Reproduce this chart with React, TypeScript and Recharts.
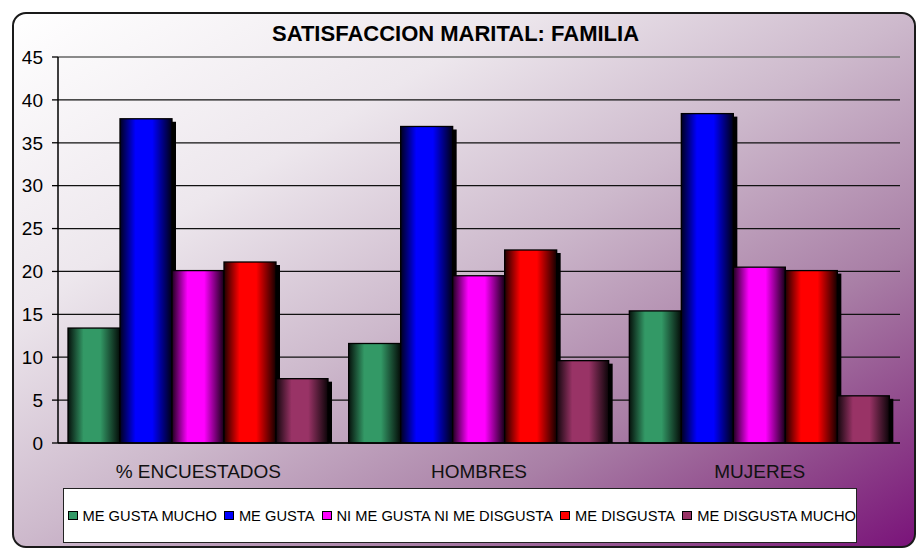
import { BarChart, Bar, XAxis, YAxis, CartesianGrid, ReferenceLine } from "recharts";

const categories = ["% ENCUESTADOS", "HOMBRES", "MUJERES"];
const meGustaMucho = [13.4, 11.6, 15.4];
const meGusta = [37.8, 36.9, 38.4];
const niMeGusta = [20.1, 19.5, 20.5];
const meDisgusta = [21.1, 22.5, 20.1];
const meDisgustaMucho = [7.5, 9.6, 5.5];

const seriesNames = [
  "ME GUSTA MUCHO",
  "ME GUSTA",
  "NI ME GUSTA NI ME DISGUSTA",
  "ME DISGUSTA",
  "ME DISGUSTA MUCHO",
];
const seriesValues = [meGustaMucho, meGusta, niMeGusta, meDisgusta, meDisgustaMucho];
const seriesColors = ["#339966", "#0000ff", "#ff00ff", "#ff0000", "#993366"];
const yTicks = [0, 5, 10, 15, 20, 25, 30, 35, 40, 45];
const boundaryTicks = [0, 1, 2, 3];

const data = categories.map((cat, i) => {
  const row: Record<string, string | number> = { cat };
  seriesValues.forEach((vals, s) => {
    row[`s${s}`] = vals[i];
  });
  return row;
});

const FONT = "'Liberation Sans', Arial, sans-serif";

// darken a hex colour by factor k (0..1)
function shade(hex: string, k: number) {
  const n = parseInt(hex.slice(1), 16);
  const r = Math.round(((n >> 16) & 255) * k);
  const g = Math.round(((n >> 8) & 255) * k);
  const b = Math.round((n & 255) * k);
  return `rgb(${r},${g},${b})`;
}

function CylBar(props: any) {
  const { x, y, width, height, gid } = props;
  if (!height || height <= 0) return null;
  return (
    <g>
      <rect x={x + 4} y={y + 3} width={width} height={Math.max(height - 3, 0)} fill="#000" />
      <rect x={x} y={y} width={width} height={height} fill={`url(#${gid})`} stroke="#000" strokeWidth={1.3} />
    </g>
  );
}

function CatTick({ x, y, payload }: any) {
  return (
    <text x={x} y={y} dy={21} textAnchor="middle" fontSize={19} fill="#111" fontFamily={FONT}>
      {payload.value}
    </text>
  );
}

export default function App() {
  return (
    <div style={{ position: "absolute", left: 0, top: 0, width: 921, height: 551, fontFamily: FONT }}>
      <svg width={0} height={0} style={{ position: "absolute" }}>
        <defs>
          {seriesColors.map((c, i) => (
            <linearGradient key={i} id={`bar${i}`} x1="0" y1="0" x2="1" y2="0">
              <stop offset="0%" stopColor={shade(c, 0.12)} />
              <stop offset="30%" stopColor={c} />
              <stop offset="62%" stopColor={c} />
              <stop offset="100%" stopColor={shade(c, 0.08)} />
            </linearGradient>
          ))}
        </defs>
      </svg>

      {/* frame with diagonal gradient */}
      <div
        style={{
          position: "absolute",
          left: 12,
          top: 12,
          width: 904,
          height: 536,
          boxSizing: "border-box",
          border: "2px solid #1a1a1a",
          borderRadius: 14,
          background:
            "linear-gradient(to bottom right, #ffffff 0%, #ede7ed 28%, #cdb9cc 50%, #a97fa6 72%, #8d4389 88%, #7a137a 100%)",
        }}
      />

      <svg width={921} height={60} style={{ position: "absolute", left: 0, top: 0 }}>
        <text x={272} y={41} fontSize={22} fontWeight="bold" fill="#000" fontFamily={FONT}>
          SATISFACCION MARITAL: FAMILIA
        </text>
      </svg>

      <div style={{ position: "absolute", left: 0, top: 0 }}>
        <BarChart
          width={921}
          height={551}
          data={data}
          margin={{ top: 57, right: 21, left: 0, bottom: 72 }}
          barCategoryGap={10}
          barGap={0}
        >
          <CartesianGrid xAxisId="a" vertical={false} stroke="#111" strokeWidth={1.2} />
          <ReferenceLine y={45} xAxisId="a" stroke="#8c8c8c" strokeWidth={1.5} />
          <XAxis
            xAxisId="cat"
            dataKey="cat"
            height={30}
            tickLine={false}
            axisLine={false}
            tick={<CatTick />}
            interval={0}
          />
          {/* boundary tick marks between categories */}
          <XAxis
            xAxisId="a"
            type="number"
            domain={[0, 3]}
            ticks={boundaryTicks}
            height={6}
            tick={false}
            axisLine={{ stroke: "#000", strokeWidth: 1.5 }}
            tickLine={{ stroke: "#000", strokeWidth: 1.3 }}
            tickSize={6}
          />
          <ReferenceLine x={3} xAxisId="a" stroke="#8c8c8c" strokeWidth={1.5} />
          <YAxis
            width={58}
            domain={[0, 45]}
            ticks={yTicks}
            interval={0}
            tickSize={6}
            tickMargin={9}
            axisLine={{ stroke: "#000", strokeWidth: 1.5 }}
            tickLine={{ stroke: "#000", strokeWidth: 1.3 }}
            tick={{ fill: "#000", fontSize: 19, fontFamily: FONT }}
          />
          {seriesNames.map((name, i) => (
            <Bar
              key={name}
              xAxisId="cat"
              dataKey={`s${i}`}
              name={name}
              fill={seriesColors[i]}
              isAnimationActive={false}
              shape={(p: any) => <CylBar {...p} gid={`bar${i}`} />}
            />
          ))}
        </BarChart>
      </div>

      {/* legend */}
      <div
        style={{
          position: "absolute",
          left: 63,
          top: 488,
          width: 794,
          height: 55,
          boxSizing: "border-box",
          border: "1.5px solid #222",
          background: "#fff",
          overflow: "hidden",
        }}
      >
        <div
          style={{
            display: "flex",
            alignItems: "center",
            height: "100%",
            paddingLeft: 3.5,
            whiteSpace: "nowrap",
            fontSize: 14.7,
            color: "#000",
          }}
        >
          {seriesNames.map((name, i) => (
            <span key={name} style={{ display: "flex", alignItems: "center", marginRight: 7, flexShrink: 0 }}>
              <span
                style={{
                  display: "inline-block",
                  width: 10,
                  height: 9,
                  boxSizing: "border-box",
                  border: "1px solid #000",
                  background: seriesColors[i],
                  marginRight: 5,
                }}
              />
              {name}
            </span>
          ))}
        </div>
      </div>
    </div>
  );
}
